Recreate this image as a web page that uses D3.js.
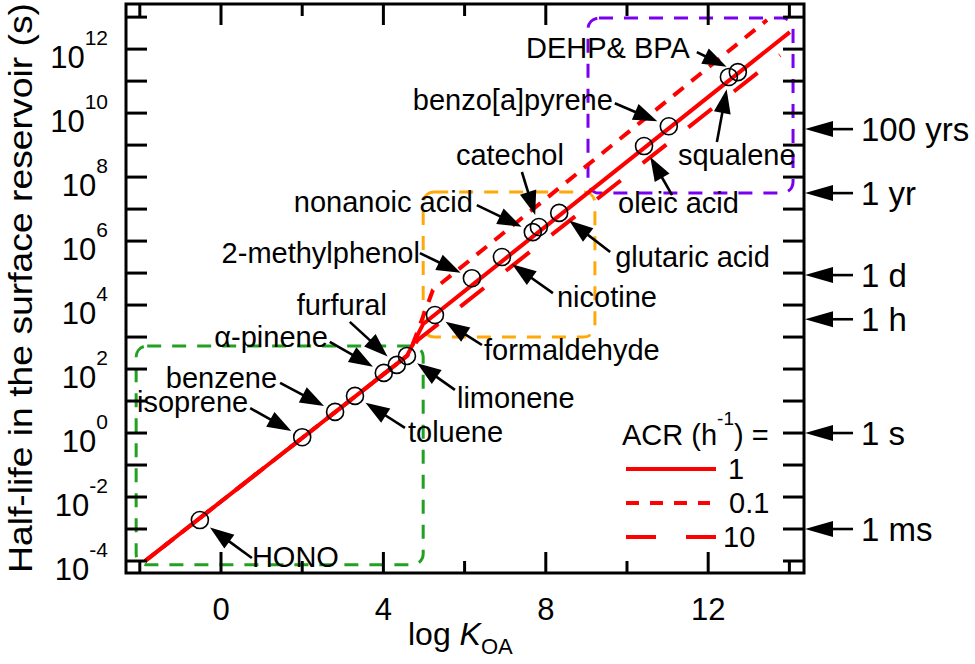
<!DOCTYPE html>
<html><head><meta charset="utf-8">
<script src="https://cdn.jsdelivr.net/npm/d3@7"></script>
<style>
body{margin:0;background:#fff}
svg{display:block}
text{font-family:"Liberation Sans",Arial,Helvetica,sans-serif;fill:#000}
</style>
</head><body>
<svg id="c" width="975" height="664"></svg>
<script>
// ---------------- data ----------------
const compounds = ["HONO","isoprene","benzene","toluene","α-pinene","furfural","limonene","formaldehyde",
  "2-methylphenol","nicotine","nonanoic acid","catechol","glutaric acid","oleic acid","benzo[a]pyrene","squalene","DEHP& BPA"];
const logKOA      = [-0.52, 2.00, 2.81, 3.30, 4.01, 4.33, 4.58, 5.27, 6.18, 6.92, 7.68, 7.83, 8.33, 10.42, 11.03, 12.51, 12.73];
const logHalfLife = [-2.72,-0.13, 0.66, 1.16, 1.88, 2.13, 2.41, 3.69, 4.84, 5.50, 6.28, 6.44, 6.88,  8.97,  9.59, 11.13, 11.28];

// ACR curves (log KOA, log half-life in s)
const acr1K   = [-1.87, 4.58, 4.98, 14.01];
const acr1T   = [-4.00, 2.41, 3.41, 12.53];
const acr01K  = [-1.87, 4.58, 4.64, 5.22, 13.45];
const acr01T  = [-4.00, 2.41, 2.49, 4.47, 12.91];
const acr10K  = [-1.87, 4.58, 4.85, 13.77];
const acr10T  = [-4.00, 2.41, 2.91, 11.81];
const acrLabels = ["1","0.1","10"];

// region boxes (log KOA range, log half-life range)
const boxK = [[-2.09, 4.98],[4.98, 9.21],[9.04, 14.09]];
const boxT = [[-4.12, 2.72],[3.00, 7.53],[7.50, 12.97]];

// axis ticks
const xMajor = [0,4,8,12];
const xMinor = [-2,2,6,10,14];
const yDecades = d3.range(-4,14);
const yLabelExp = [-4,-2,0,2,4,6,8,10,12];

// time references on right side (seconds)
const timeLabels = ["100 yrs","1 yr","1 d","1 h","1 s","1 ms"];
const timeSeconds = [3.156e9, 3.156e7, 86400, 3600, 1, 0.001];

// ---------------- layout ----------------
const L=126, R=804, T=4, B=573;
const x = d3.scaleLinear().domain([-2.34,14.36]).range([L,R]);
const y = d3.scaleLog().domain([Math.pow(10,-4.375), Math.pow(10,13.41)]).range([B,T]);
const Y = v => y(Math.pow(10,v));

// label offsets relative to circle center (px): anchor, text dx,dy, arrow tail dx,dy
const labelLayout = [
  ["start", 52, 47, 52, 38],
  ["end",  -54,-25,-52,-29],
  ["end",  -58,-24,-55,-29],
  ["start", 53, 46, 50, 32],
  ["end",  -56,-26,-54,-31],
  ["middle",-55,-50,-47,-43],
  ["start", 50, 52, 48, 34],
  ["start", 49, 45, 47, 30],
  ["end",  -52,-15,-52,-25],
  ["start", 55, 50, 51, 36],
  ["end",  -60,-20,-56,-27],
  ["middle",-29,-62,-17,-55],
  ["start", 56, 54, 51, 39],
  ["start",-26, 67, 28, 49],
  ["end",  -56,-16,-54,-23],
  ["start",-51, 88,-12, 65],
  ["end",  -48,-14,-41,-20]
];

const svg = d3.select("#c");
const RED = "#ff0000";

function arrow(g, x1,y1,x2,y2, hl, hw, sw){
  const dx=x2-x1, dy=y2-y1, len=Math.hypot(dx,dy), ux=dx/len, uy=dy/len;
  const bx=x2-ux*hl, by=y2-uy*hl;
  g.append("line").attr("x1",x1).attr("y1",y1).attr("x2",bx+ux*2).attr("y2",by+uy*2)
    .attr("stroke","#000").attr("stroke-width",sw);
  g.append("path").attr("d",`M${x2},${y2}L${bx-uy*hw},${by+ux*hw}L${bx+uy*hw},${by-ux*hw}Z`).attr("fill","#000");
}

// boxes
const boxColors = ["#22a022","#ffa80a","#7a00f0"];
boxK.forEach((bk,i)=>{
  const bt = boxT[i];
  svg.append("rect").attr("x",x(bk[0])).attr("y",Y(bt[1]))
    .attr("width",x(bk[1])-x(bk[0])).attr("height",Y(bt[0])-Y(bt[1]))
    .attr("rx",11).attr("ry",11).attr("fill","none").attr("stroke",boxColors[i])
    .attr("stroke-width",3).attr("stroke-dasharray","14,11");
});

// ACR lines
const lineGen = d3.line().x(d=>x(d[0])).y(d=>Y(d[1]));
const curves = [
  [acr1K, acr1T, null],
  [acr01K, acr01T, "13,10"],
  [acr10K, acr10T, "30,28"]
];
curves.forEach(c=>{
  const pts = c[0].map((k,i)=>[k,c[1][i]]);
  const p = svg.append("path").attr("d",lineGen(pts)).attr("fill","none")
    .attr("stroke",RED).attr("stroke-width",4);
  if(c[2]) p.attr("stroke-dasharray",c[2]);
});

// circles
const gC = svg.append("g");
compounds.forEach((n,i)=>{
  gC.append("circle").attr("cx",x(logKOA[i])).attr("cy",Y(logHalfLife[i])).attr("r",8.5)
    .attr("fill","none").attr("stroke","#000").attr("stroke-width",1.6);
});

// labels + arrows
const gL = svg.append("g");
compounds.forEach((n,i)=>{
  const cx=x(logKOA[i]), cy=Y(logHalfLife[i]);
  const lay = labelLayout[i];
  gL.append("text").attr("x",cx+lay[1]).attr("y",cy+lay[2]).attr("text-anchor",lay[0])
    .attr("font-size",29).text(n);
  const tx=cx+lay[3], ty=cy+lay[4];
  const dx=tx-cx, dy=ty-cy, d=Math.hypot(dx,dy);
  arrow(gL, tx,ty, cx+dx/d*12.5, cy+dy/d*12.5, 24, 8.5, 2.6);
});

// axes ticks
const gA = svg.append("g");
function xTicks(vals, len){
  vals.forEach(v=>{
    gA.append("line").attr("x1",x(v)).attr("x2",x(v)).attr("y1",B).attr("y2",B-len).attr("stroke","#000").attr("stroke-width",3);
    gA.append("line").attr("x1",x(v)).attr("x2",x(v)).attr("y1",T).attr("y2",T+len).attr("stroke","#000").attr("stroke-width",3);
  });
}
xTicks(xMajor,21); xTicks(xMinor,12);
yDecades.forEach(e=>{
  const yy=Y(e);
  gA.append("line").attr("x1",L).attr("x2",L+21).attr("y1",yy).attr("y2",yy).attr("stroke","#000").attr("stroke-width",3);
  gA.append("line").attr("x1",R).attr("x2",R-21).attr("y1",yy).attr("y2",yy).attr("stroke","#000").attr("stroke-width",3);
});
svg.append("rect").attr("x",L).attr("y",T).attr("width",R-L).attr("height",B-T)
  .attr("fill","none").attr("stroke","#000").attr("stroke-width",3);

// tick labels
xMajor.forEach(v=>{
  svg.append("text").attr("x",x(v)).attr("y",620).attr("text-anchor","middle").attr("font-size",31).text(v);
});
yLabelExp.forEach(e=>{
  const t = svg.append("text").attr("x",108).attr("y",Y(e)+19).attr("text-anchor","end").attr("font-size",31);
  t.append("tspan").text("10");
  t.append("tspan").attr("dy",-23).attr("font-size",21).text(String(e));
});

// axis titles
const xt = svg.append("text").attr("x",408).attr("y",645).attr("font-size",32);
xt.append("tspan").text("log ");
xt.append("tspan").attr("font-style","italic").text("K");
xt.append("tspan").attr("font-size",22).attr("dy",9).text("OA");

svg.append("text").attr("transform","translate(32,288) rotate(-90)").attr("text-anchor","middle")
  .attr("font-size",33).attr("textLength",570).attr("lengthAdjust","spacingAndGlyphs")
  .text("Half-life in the surface reservoir (s)");

// right side time references
timeLabels.forEach((lab,i)=>{
  const yy = y(timeSeconds[i]);
  arrow(svg, 853, yy, R+1, yy, 28, 8, 2.6);
  svg.append("text").attr("x",861).attr("y",yy+12).attr("font-size",33).text(lab);
});

// legend
const lg = svg.append("text").attr("x",622).attr("y",445).attr("font-size",29);
lg.append("tspan").text("ACR (h");
lg.append("tspan").attr("dy",-20).attr("font-size",19).text("-1");
lg.append("tspan").attr("dy",20).text(") =");
const legY = [469,503,537];
const legDash = [null,"13,11","30,30"];
const legEnd = [716,710,716];
const legTextX = [728,729,723];
acrLabels.forEach((lab,i)=>{
  const ln = svg.append("line").attr("x1",626).attr("x2",legEnd[i]).attr("y1",legY[i]).attr("y2",legY[i])
    .attr("stroke",RED).attr("stroke-width",4);
  if(legDash[i]) ln.attr("stroke-dasharray",legDash[i]);
  svg.append("text").attr("x",legTextX[i]).attr("y",legY[i]+10).attr("font-size",29).text(lab);
});
</script>
</body></html>
